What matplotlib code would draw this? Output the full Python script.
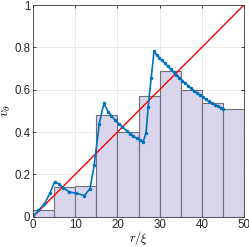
import matplotlib
matplotlib.use("Agg")
import matplotlib.pyplot as plt
import numpy as np

plt.rcParams['font.family'] = ['Liberation Sans', 'DejaVu Sans']
plt.rcParams['mathtext.fontset'] = 'cm'

# histogram bins (left edges) and heights
bin_edges = [0, 5, 10, 15, 20, 25, 30, 35, 40, 45, 50]
bin_heights = [0.03, 0.14, 0.145, 0.48, 0.40, 0.57, 0.69, 0.60, 0.535, 0.51]

# blue curve
r_vals = [0, 1.3, 2.7, 4.0, 5.1, 6.1, 7.2, 8.6, 10.3, 12.2, 13.5, 14.5, 15.7, 16.8,
          17.8, 18.6, 19.4, 20.3, 21.2, 22.2, 23.0, 23.8, 24.6, 25.4, 26.1, 26.8,
          27.3, 28.0, 28.7, 29.3, 29.9, 30.6, 31.2, 31.9, 32.6, 33.3, 34.0, 34.7,
          35.4, 36.1, 36.8, 37.5, 38.2, 38.9, 39.6, 40.3, 41.0, 41.7, 42.4, 43.1,
          43.8, 44.5, 45.1]
v_vals = [0.0, 0.03, 0.06, 0.11, 0.164, 0.155, 0.136, 0.117, 0.11, 0.10, 0.132, 0.244,
          0.44, 0.535, 0.496, 0.477, 0.457, 0.440, 0.423, 0.406, 0.393, 0.381, 0.370,
          0.360, 0.354, 0.397, 0.52, 0.654, 0.784, 0.764, 0.752, 0.738, 0.726, 0.712,
          0.698, 0.684, 0.670, 0.656, 0.643, 0.630, 0.618, 0.606, 0.595, 0.584, 0.574,
          0.564, 0.554, 0.545, 0.536, 0.528, 0.521, 0.514, 0.509]

# red reference line
line_r = [0, 50]
line_v = [0, 1]

fig = plt.figure(figsize=(2.49, 2.47), dpi=100)
ax = fig.add_axes([33/249, 30.3/247, 211/249, 211.7/247])

widths = np.diff(bin_edges)
ax.bar(bin_edges[:-1], bin_heights, width=widths, align='edge',
       color='#d8d5ec', edgecolor='#707078', linewidth=0.8, zorder=2)
ax.plot(line_r, line_v, color='#ff0000', linewidth=1.0, zorder=3)
ax.plot(r_vals, v_vals, color='#0072bd', linewidth=1.2, marker='.', markersize=3, zorder=4)

ax.set_xlim(0, 50)
ax.set_ylim(0, 1)
ax.set_xticks([0, 10, 20, 30, 40, 50])
ax.set_yticks([0, 0.2, 0.4, 0.6, 0.8, 1])
ax.set_yticklabels(['0', '0.2', '0.4', '0.6', '0.8', '1'])
ax.grid(True, color='#e6e6e6', linewidth=0.6, zorder=0)
ax.set_axisbelow(True)
ax.tick_params(direction='in', length=2.5, width=0.6, labelsize=8.3, colors='#262626',
               top=True, right=True, pad=2)
ax.tick_params(axis='x', pad=1.5)
for s in ax.spines.values():
    s.set_color('#3a3a3a')
    s.set_linewidth(0.6)
    s.set_zorder(5)

ax.set_xlabel(r'$r/\xi$', fontsize=9, labelpad=-1)
ax.set_ylabel(r'$v_\theta$', fontsize=10, labelpad=1)

fig.savefig('out.png', dpi=100)
